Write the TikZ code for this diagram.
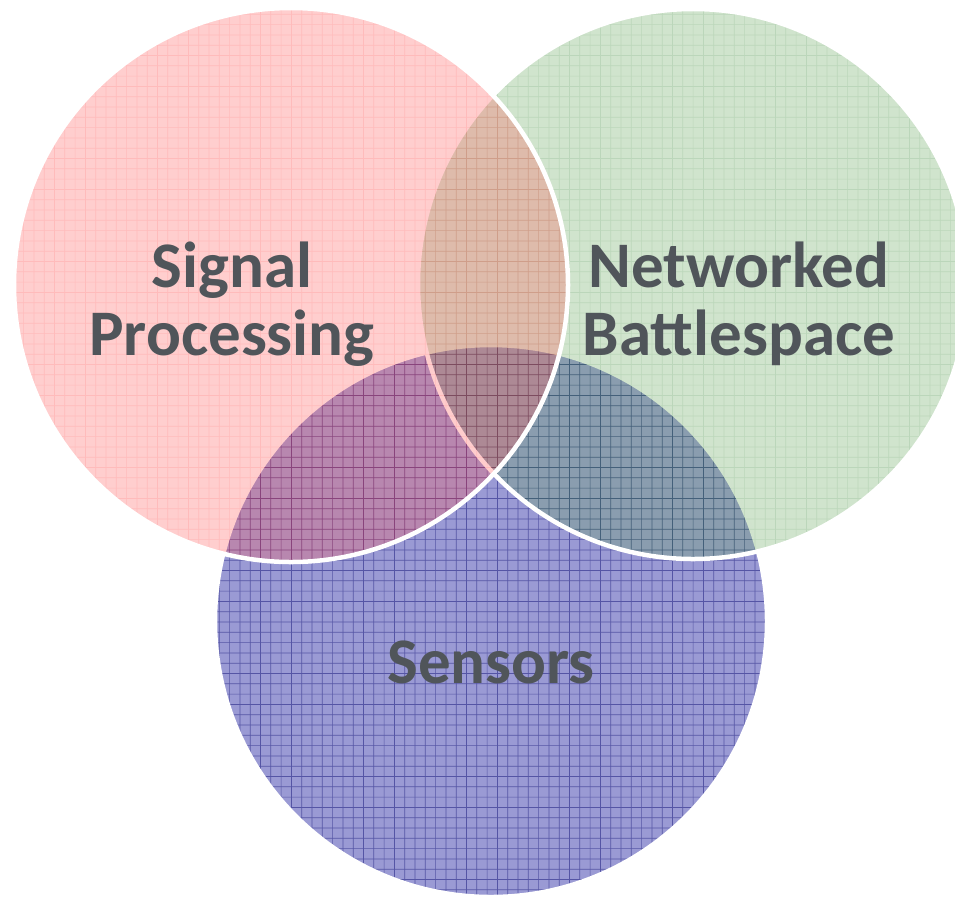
\documentclass[tikz,border=0pt]{standalone}
\usepackage{fontspec}
\setmainfont{Carlito}
\definecolor{redbase}{RGB}{255,92,92}
\definecolor{redline}{RGB}{255,30,30}
\definecolor{greenbase}{RGB}{100,165,90}
\definecolor{greenline}{RGB}{30,120,25}
\definecolor{bluebase}{RGB}{115,115,195}
\definecolor{blueline}{RGB}{20,20,130}
\definecolor{labelgray}{RGB}{80,85,90}
\tikzset{
  ring/.style={draw=white, line width=4.5pt},
  vlabel/.style={font=\bfseries\fontsize{65}{68}\selectfont, text=labelgray, align=center, inner sep=0pt}
}
\newcommand{\gridcircle}[5]{%
  % #1 centre, #2 radius, #3 fill colour, #4 grid colour, #5 opacity
  \begin{scope}[transparency group, opacity=#5]
    \fill[#3] #1 circle (#2);
    \begin{scope}
      \clip #1 circle (#2);
      \foreach \k in {0,...,93} {
        \draw[#4, line width=0.7pt] (\k*10.3+3,0) -- (\k*10.3+3,898);
      }
      \foreach \k in {0,...,87} {
        \draw[#4, line width=0.7pt] (0,\k*10.3+4) -- (955,\k*10.3+4);
      }
    \end{scope}
  \end{scope}}
\begin{document}
\begin{tikzpicture}[x=1pt, y=-1pt]
  \useasboundingbox (0,0) rectangle (955,898);
  \coordinate (cB) at (491,621);
  \coordinate (cG) at (693,284);
  \coordinate (cR) at (291,285);
  % Sensors (bottom layer)
  \gridcircle{(cB)}{276}{bluebase}{blueline}{0.72}
  \draw[ring] (cB) circle (276);
  % Networked Battlespace
  \gridcircle{(cG)}{275}{greenbase}{greenline}{0.3}
  \draw[ring] (cG) circle (275);
  % Signal Processing (top layer)
  \gridcircle{(cR)}{277}{redbase}{redline}{0.3}
  \draw[ring] (cR) circle (277);
  % labels (base anchor sits on the last line)
  \node[vlabel, anchor=base] (sp) at (232,355) {Signal\\Processing};
  \node[vlabel, anchor=base] (nb) at (739,355) {Networked\\Battlespace};
  \node[vlabel, anchor=base] (se) at (491,683) {Sensors};
\end{tikzpicture}
\end{document}
